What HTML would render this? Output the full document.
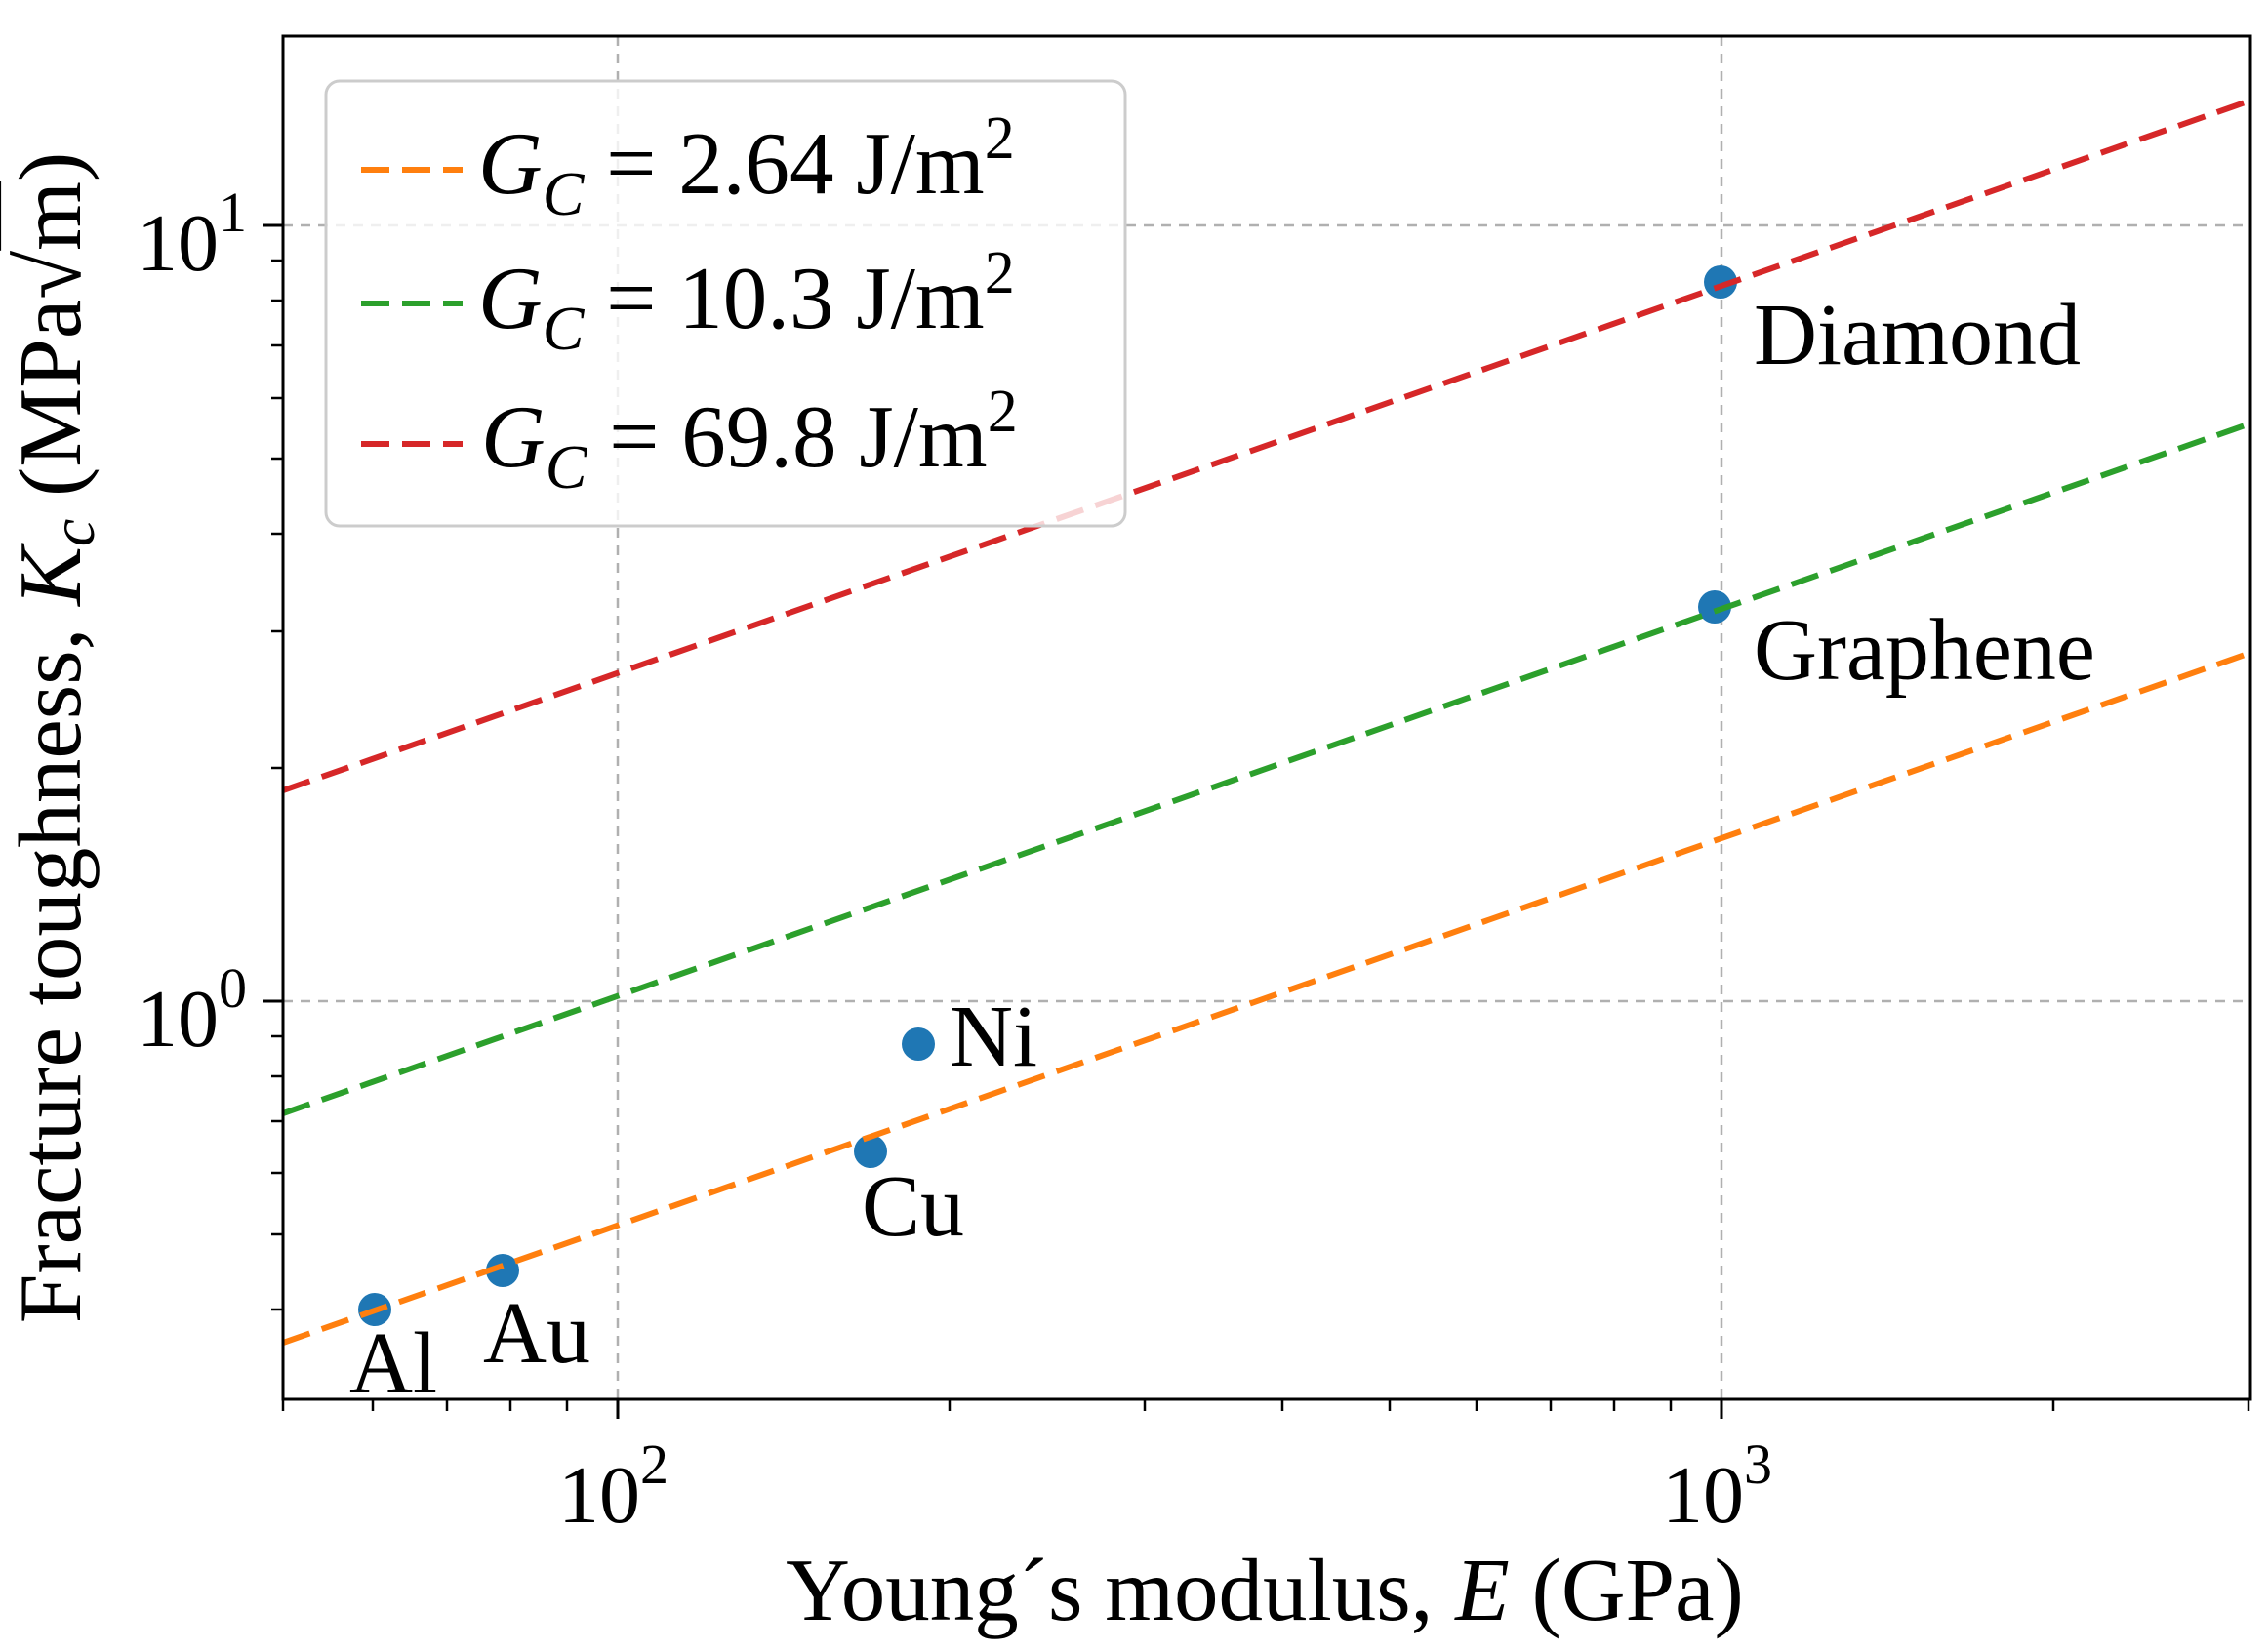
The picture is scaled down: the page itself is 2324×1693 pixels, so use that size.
<!DOCTYPE html>
<html><head><meta charset="utf-8"><style>
html,body{margin:0;padding:0;background:#fff;}
svg{display:block;}
text{font-family:"Liberation Serif","DejaVu Serif",serif;fill:#000;}
</style></head><body>
<svg width="2324" height="1693" viewBox="0 0 2324 1693" xmlns="http://www.w3.org/2000/svg">
<rect width="2324" height="1693" fill="#fff"/>
<defs><clipPath id="c"><rect x="290" y="37" width="2016" height="1397"/></clipPath></defs>
<g stroke="#b0b0b0" stroke-width="2.5" stroke-dasharray="10,8" fill="none">
<line x1="633" y1="37" x2="633" y2="1434"/>
<line x1="1764" y1="37" x2="1764" y2="1434"/>
<line x1="290" y1="231" x2="2306" y2="231"/>
<line x1="290" y1="1026" x2="2306" y2="1026"/>
</g>
<g fill="#1f77b4">
<circle cx="384" cy="1342" r="17"/>
<circle cx="515" cy="1302" r="17"/>
<circle cx="892" cy="1180" r="17"/>
<circle cx="941" cy="1070" r="17"/>
<circle cx="1757" cy="622" r="17"/>
<circle cx="1763" cy="289" r="17"/>
</g>
<g clip-path="url(#c)" stroke-width="6" stroke-dasharray="29,13" fill="none">
<line x1="290" y1="1376" x2="2306" y2="669" stroke="#ff7f0e"/>
<line x1="290" y1="1141" x2="2306" y2="434" stroke="#2ca02c"/>
<line x1="290" y1="810" x2="2306" y2="103" stroke="#d62728"/>
</g>
<g font-size="90">
<text x="358" y="1427">Al</text>
<text x="495" y="1396">Au</text>
<text x="883" y="1266">Cu</text>
<text x="973" y="1092">Ni</text>
<text x="1797" y="373">Diamond</text>
<text x="1797" y="696">Graphene</text>
</g>
<rect x="334" y="83" width="819" height="456" rx="14" fill="#fff" fill-opacity="0.8" stroke="#cccccc" stroke-width="3"/>
<g stroke-width="6" stroke-dasharray="29,13">
<line x1="370" y1="174" x2="474" y2="174" stroke="#ff7f0e"/>
<line x1="370" y1="311" x2="474" y2="311" stroke="#2ca02c"/>
<line x1="370" y1="455" x2="474" y2="455" stroke="#d62728"/>
</g>
<g font-size="91">
<text x="490" y="198"><tspan font-style="italic">G</tspan><tspan font-style="italic" font-size="64" dy="22">C</tspan><tspan dy="-22"> = 2.64 J/m</tspan><tspan font-size="62" dy="-36">2</tspan></text>
<text x="490" y="336"><tspan font-style="italic">G</tspan><tspan font-style="italic" font-size="64" dy="22">C</tspan><tspan dy="-22"> = 10.3 J/m</tspan><tspan font-size="62" dy="-36">2</tspan></text>
<text x="493" y="478"><tspan font-style="italic">G</tspan><tspan font-style="italic" font-size="64" dy="22">C</tspan><tspan dy="-22"> = 69.8 J/m</tspan><tspan font-size="62" dy="-36">2</tspan></text>
</g>
<rect x="290" y="37" width="2016" height="1397" fill="none" stroke="#000" stroke-width="3"/>
<g stroke="#000" stroke-width="3">
<line x1="633" y1="1434" x2="633" y2="1454"/>
<line x1="1764" y1="1434" x2="1764" y2="1454"/>
<line x1="290" y1="231" x2="270" y2="231"/>
<line x1="290" y1="1026" x2="270" y2="1026"/>
</g>
<g stroke="#000" stroke-width="2.5">
<line x1="290" y1="1434" x2="290" y2="1446"/>
<line x1="382" y1="1434" x2="382" y2="1446"/>
<line x1="458" y1="1434" x2="458" y2="1446"/>
<line x1="523" y1="1434" x2="523" y2="1446"/>
<line x1="581" y1="1434" x2="581" y2="1446"/>
<line x1="973" y1="1434" x2="973" y2="1446"/>
<line x1="1173" y1="1434" x2="1173" y2="1446"/>
<line x1="1314" y1="1434" x2="1314" y2="1446"/>
<line x1="1424" y1="1434" x2="1424" y2="1446"/>
<line x1="1513" y1="1434" x2="1513" y2="1446"/>
<line x1="1589" y1="1434" x2="1589" y2="1446"/>
<line x1="1654" y1="1434" x2="1654" y2="1446"/>
<line x1="1712" y1="1434" x2="1712" y2="1446"/>
<line x1="2104" y1="1434" x2="2104" y2="1446"/>
<line x1="2304" y1="1434" x2="2304" y2="1446"/>
<line x1="290" y1="1342" x2="278" y2="1342"/>
<line x1="290" y1="1265" x2="278" y2="1265"/>
<line x1="290" y1="1202" x2="278" y2="1202"/>
<line x1="290" y1="1149" x2="278" y2="1149"/>
<line x1="290" y1="1103" x2="278" y2="1103"/>
<line x1="290" y1="1062" x2="278" y2="1062"/>
<line x1="290" y1="787" x2="278" y2="787"/>
<line x1="290" y1="647" x2="278" y2="647"/>
<line x1="290" y1="547" x2="278" y2="547"/>
<line x1="290" y1="470" x2="278" y2="470"/>
<line x1="290" y1="408" x2="278" y2="408"/>
<line x1="290" y1="354" x2="278" y2="354"/>
<line x1="290" y1="308" x2="278" y2="308"/>
<line x1="290" y1="267" x2="278" y2="267"/>
</g>
<g font-size="84">
<text x="572" y="1560">10<tspan font-size="58" dy="-40">2</tspan></text>
<text x="1703" y="1560">10<tspan font-size="58" dy="-40">3</tspan></text>
<text x="140" y="277">10<tspan font-size="58" dy="-40">1</tspan></text>
<text x="140" y="1072">10<tspan font-size="58" dy="-40">0</tspan></text>
</g>
<text x="1296" y="1660" font-size="91" text-anchor="middle">Young´s modulus, <tspan font-style="italic">E</tspan> (GPa)</text>
<text transform="translate(82,756) rotate(-90)" font-size="91" text-anchor="middle">Fracture toughness,  <tspan font-style="italic">K</tspan><tspan font-style="italic" font-size="64" dy="14">c</tspan><tspan dy="-14"> (MPa√</tspan><tspan text-decoration="overline">m</tspan>)</text>
</svg>
</body></html>
